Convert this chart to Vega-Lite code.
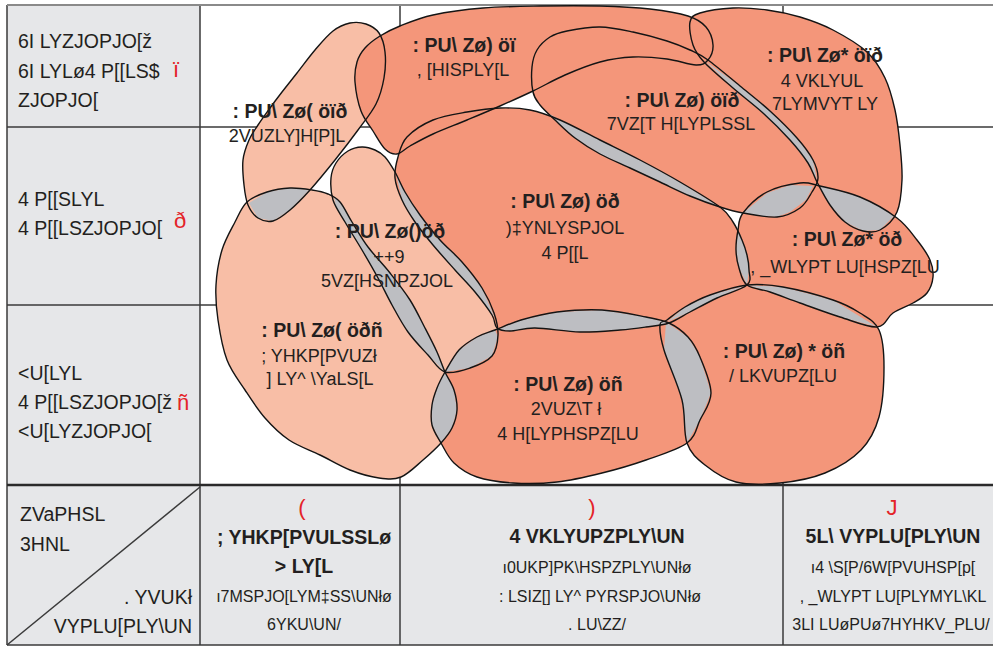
{
"$schema":"https://vega.github.io/schema/vega-lite/v6.json",
"width":993,"height":647,"padding":0,"autosize":{"type":"none"},
"background":"#ffffff",
"config":{"view":{"stroke":null}},
"datasets":{
"cells":[{"x":7,"x2":200,"y":5,"y2":645},{"x":7,"x2":993,"y":485,"y2":645}],
"grid":[
{"k":"n","x":200,"x2":200,"y":5,"y2":645},{"k":"n","x":400,"x2":400,"y":5,"y2":645},{"k":"n","x":783,"x2":783,"y":5,"y2":645},
{"k":"n","x":7,"x2":993,"y":127,"y2":127},{"k":"n","x":7,"x2":993,"y":305,"y2":305},{"k":"n","x":7,"x2":7,"y":5,"y2":645},
{"k":"n","x":7,"x2":993,"y":645,"y2":645},{"k":"n","x":7,"x2":200,"y":645,"y2":487},
{"k":"b","x":7,"x2":993,"y":485,"y2":485},{"k":"t","x":7,"x2":993,"y":5,"y2":5}],
"bub":[
{"s":"A12","i":0,"x":243,"y":160},{"s":"A12","i":1,"x":249,"y":140},{"s":"A12","i":2,"x":258,"y":125},{"s":"A12","i":3,"x":270,"y":108},{"s":"A12","i":4,"x":282,"y":92},{"s":"A12","i":5,"x":297,"y":73},{"s":"A12","i":6,"x":315,"y":50},{"s":"A12","i":7,"x":333,"y":31},{"s":"A12","i":8,"x":350,"y":23},{"s":"A12","i":9,"x":366,"y":24},{"s":"A12","i":10,"x":379,"y":33},{"s":"A12","i":11,"x":385,"y":52},{"s":"A12","i":12,"x":384,"y":78},{"s":"A12","i":13,"x":376,"y":104},{"s":"A12","i":14,"x":358,"y":130},{"s":"A12","i":15,"x":335,"y":160},{"s":"A12","i":16,"x":310,"y":190},{"s":"A12","i":17,"x":290,"y":210},{"s":"A12","i":18,"x":273,"y":221},{"s":"A12","i":19,"x":258,"y":218},{"s":"A12","i":20,"x":248,"y":205},{"s":"A12","i":21,"x":244,"y":185},
{"s":"A23","i":0,"x":235,"y":222},{"s":"A23","i":1,"x":247,"y":202},{"s":"A23","i":2,"x":267,"y":192},{"s":"A23","i":3,"x":290,"y":188},{"s":"A23","i":4,"x":312,"y":190},{"s":"A23","i":5,"x":328,"y":194},{"s":"A23","i":6,"x":340,"y":202},{"s":"A23","i":7,"x":352,"y":222},{"s":"A23","i":8,"x":368,"y":247},{"s":"A23","i":9,"x":390,"y":273},{"s":"A23","i":10,"x":410,"y":300},{"s":"A23","i":11,"x":425,"y":328},{"s":"A23","i":12,"x":437,"y":352},{"s":"A23","i":13,"x":445,"y":372},{"s":"A23","i":14,"x":454,"y":390},{"s":"A23","i":15,"x":457,"y":410},{"s":"A23","i":16,"x":452,"y":428},{"s":"A23","i":17,"x":441,"y":443},{"s":"A23","i":18,"x":423,"y":460},{"s":"A23","i":19,"x":401,"y":477},{"s":"A23","i":20,"x":379,"y":478},{"s":"A23","i":21,"x":350,"y":470},{"s":"A23","i":22,"x":320,"y":455},{"s":"A23","i":23,"x":289,"y":440},{"s":"A23","i":24,"x":265,"y":418},{"s":"A23","i":25,"x":245,"y":390},{"s":"A23","i":26,"x":227,"y":360},{"s":"A23","i":27,"x":218,"y":320},{"s":"A23","i":28,"x":216,"y":285},{"s":"A23","i":29,"x":222,"y":250},
{"s":"AB2","i":0,"x":331,"y":178},{"s":"AB2","i":1,"x":336,"y":163},{"s":"AB2","i":2,"x":348,"y":151},{"s":"AB2","i":3,"x":362,"y":147},{"s":"AB2","i":4,"x":375,"y":150},{"s":"AB2","i":5,"x":385,"y":157},{"s":"AB2","i":6,"x":395,"y":172},{"s":"AB2","i":7,"x":405,"y":192},{"s":"AB2","i":8,"x":420,"y":215},{"s":"AB2","i":9,"x":440,"y":240},{"s":"AB2","i":10,"x":462,"y":262},{"s":"AB2","i":11,"x":482,"y":288},{"s":"AB2","i":12,"x":494,"y":313},{"s":"AB2","i":13,"x":498,"y":335},{"s":"AB2","i":14,"x":492,"y":356},{"s":"AB2","i":15,"x":470,"y":368},{"s":"AB2","i":16,"x":445,"y":372},{"s":"AB2","i":17,"x":428,"y":355},{"s":"AB2","i":18,"x":408,"y":332},{"s":"AB2","i":19,"x":392,"y":305},{"s":"AB2","i":20,"x":378,"y":278},{"s":"AB2","i":21,"x":362,"y":250},{"s":"AB2","i":22,"x":345,"y":222},{"s":"AB2","i":23,"x":333,"y":200},
{"s":"B1","i":0,"x":355,"y":82},{"s":"B1","i":1,"x":357,"y":62},{"s":"B1","i":2,"x":365,"y":48},{"s":"B1","i":3,"x":380,"y":36},{"s":"B1","i":4,"x":400,"y":26},{"s":"B1","i":5,"x":433,"y":15},{"s":"B1","i":6,"x":483,"y":8},{"s":"B1","i":7,"x":540,"y":6},{"s":"B1","i":8,"x":600,"y":6},{"s":"B1","i":9,"x":650,"y":9},{"s":"B1","i":10,"x":688,"y":16},{"s":"B1","i":11,"x":706,"y":27},{"s":"B1","i":12,"x":713,"y":45},{"s":"B1","i":13,"x":708,"y":60},{"s":"B1","i":14,"x":696,"y":65},{"s":"B1","i":15,"x":667,"y":59},{"s":"B1","i":16,"x":633,"y":57},{"s":"B1","i":17,"x":600,"y":62},{"s":"B1","i":18,"x":565,"y":75},{"s":"B1","i":19,"x":533,"y":91},{"s":"B1","i":20,"x":500,"y":106},{"s":"B1","i":21,"x":467,"y":120},{"s":"B1","i":22,"x":433,"y":134},{"s":"B1","i":23,"x":410,"y":146},{"s":"B1","i":24,"x":397,"y":154},{"s":"B1","i":25,"x":385,"y":149},{"s":"B1","i":26,"x":373,"y":131},{"s":"B1","i":27,"x":361,"y":111},
{"s":"B12","i":0,"x":533,"y":92},{"s":"B12","i":1,"x":532,"y":67},{"s":"B12","i":2,"x":537,"y":50},{"s":"B12","i":3,"x":550,"y":37},{"s":"B12","i":4,"x":567,"y":31},{"s":"B12","i":5,"x":600,"y":27},{"s":"B12","i":6,"x":633,"y":32},{"s":"B12","i":7,"x":667,"y":41},{"s":"B12","i":8,"x":690,"y":50},{"s":"B12","i":9,"x":708,"y":60},{"s":"B12","i":10,"x":740,"y":86},{"s":"B12","i":11,"x":770,"y":111},{"s":"B12","i":12,"x":797,"y":138},{"s":"B12","i":13,"x":813,"y":160},{"s":"B12","i":14,"x":818,"y":178},{"s":"B12","i":15,"x":812,"y":192},{"s":"B12","i":16,"x":800,"y":208},{"s":"B12","i":17,"x":777,"y":217},{"s":"B12","i":18,"x":743,"y":213},{"s":"B12","i":19,"x":720,"y":207},{"s":"B12","i":20,"x":690,"y":196},{"s":"B12","i":21,"x":660,"y":182},{"s":"B12","i":22,"x":630,"y":168},{"s":"B12","i":23,"x":600,"y":154},{"s":"B12","i":24,"x":575,"y":138},{"s":"B12","i":25,"x":555,"y":120},{"s":"B12","i":26,"x":540,"y":105},
{"s":"C12","i":0,"x":690,"y":22},{"s":"C12","i":1,"x":700,"y":13},{"s":"C12","i":2,"x":733,"y":8},{"s":"C12","i":3,"x":767,"y":10},{"s":"C12","i":4,"x":800,"y":17},{"s":"C12","i":5,"x":833,"y":30},{"s":"C12","i":6,"x":867,"y":52},{"s":"C12","i":7,"x":885,"y":78},{"s":"C12","i":8,"x":895,"y":110},{"s":"C12","i":9,"x":900,"y":145},{"s":"C12","i":10,"x":902,"y":180},{"s":"C12","i":11,"x":897,"y":212},{"s":"C12","i":12,"x":880,"y":230},{"s":"C12","i":13,"x":863,"y":231},{"s":"C12","i":14,"x":845,"y":222},{"s":"C12","i":15,"x":830,"y":205},{"s":"C12","i":16,"x":817,"y":182},{"s":"C12","i":17,"x":808,"y":163},{"s":"C12","i":18,"x":790,"y":140},{"s":"C12","i":19,"x":763,"y":113},{"s":"C12","i":20,"x":733,"y":88},{"s":"C12","i":21,"x":704,"y":62},{"s":"C12","i":22,"x":693,"y":45},
{"s":"C2","i":0,"x":738,"y":230},{"s":"C2","i":1,"x":743,"y":213},{"s":"C2","i":2,"x":767,"y":192},{"s":"C2","i":3,"x":800,"y":183},{"s":"C2","i":4,"x":820,"y":186},{"s":"C2","i":5,"x":860,"y":197},{"s":"C2","i":6,"x":897,"y":218},{"s":"C2","i":7,"x":917,"y":240},{"s":"C2","i":8,"x":930,"y":260},{"s":"C2","i":9,"x":933,"y":277},{"s":"C2","i":10,"x":927,"y":293},{"s":"C2","i":11,"x":913,"y":303},{"s":"C2","i":12,"x":893,"y":313},{"s":"C2","i":13,"x":877,"y":327},{"s":"C2","i":14,"x":840,"y":317},{"s":"C2","i":15,"x":800,"y":303},{"s":"C2","i":16,"x":770,"y":292},{"s":"C2","i":17,"x":747,"y":285},{"s":"C2","i":18,"x":739,"y":268},{"s":"C2","i":19,"x":736,"y":250},
{"s":"B2","i":0,"x":398,"y":157},{"s":"B2","i":1,"x":395,"y":178},{"s":"B2","i":2,"x":402,"y":200},{"s":"B2","i":3,"x":415,"y":222},{"s":"B2","i":4,"x":433,"y":245},{"s":"B2","i":5,"x":455,"y":270},{"s":"B2","i":6,"x":475,"y":292},{"s":"B2","i":7,"x":492,"y":315},{"s":"B2","i":8,"x":497,"y":328},{"s":"B2","i":9,"x":510,"y":331},{"s":"B2","i":10,"x":535,"y":328},{"s":"B2","i":11,"x":580,"y":332},{"s":"B2","i":12,"x":620,"y":330},{"s":"B2","i":13,"x":646,"y":327},{"s":"B2","i":14,"x":669,"y":323},{"s":"B2","i":15,"x":690,"y":312},{"s":"B2","i":16,"x":717,"y":298},{"s":"B2","i":17,"x":747,"y":285},{"s":"B2","i":18,"x":749,"y":270},{"s":"B2","i":19,"x":747,"y":255},{"s":"B2","i":20,"x":742,"y":240},{"s":"B2","i":21,"x":733,"y":222},{"s":"B2","i":22,"x":720,"y":207},{"s":"B2","i":23,"x":680,"y":182},{"s":"B2","i":24,"x":640,"y":160},{"s":"B2","i":25,"x":600,"y":140},{"s":"B2","i":26,"x":560,"y":120},{"s":"B2","i":27,"x":530,"y":110},{"s":"B2","i":28,"x":500,"y":108},{"s":"B2","i":29,"x":467,"y":112},{"s":"B2","i":30,"x":433,"y":120},{"s":"B2","i":31,"x":407,"y":137},
{"s":"B3","i":0,"x":445,"y":372},{"s":"B3","i":1,"x":459,"y":350},{"s":"B3","i":2,"x":477,"y":337},{"s":"B3","i":3,"x":495,"y":330},{"s":"B3","i":4,"x":521,"y":320},{"s":"B3","i":5,"x":557,"y":312},{"s":"B3","i":6,"x":602,"y":310},{"s":"B3","i":7,"x":646,"y":317},{"s":"B3","i":8,"x":669,"y":323},{"s":"B3","i":9,"x":688,"y":337},{"s":"B3","i":10,"x":700,"y":357},{"s":"B3","i":11,"x":711,"y":393},{"s":"B3","i":12,"x":700,"y":420},{"s":"B3","i":13,"x":687,"y":443},{"s":"B3","i":14,"x":646,"y":460},{"s":"B3","i":15,"x":602,"y":473},{"s":"B3","i":16,"x":557,"y":482},{"s":"B3","i":17,"x":513,"y":483},{"s":"B3","i":18,"x":477,"y":477},{"s":"B3","i":19,"x":454,"y":463},{"s":"B3","i":20,"x":441,"y":443},{"s":"B3","i":21,"x":432,"y":425},{"s":"B3","i":22,"x":432,"y":405},{"s":"B3","i":23,"x":437,"y":388},
{"s":"BC3","i":0,"x":660,"y":325},{"s":"BC3","i":1,"x":667,"y":320},{"s":"BC3","i":2,"x":685,"y":307},{"s":"BC3","i":3,"x":710,"y":295},{"s":"BC3","i":4,"x":747,"y":285},{"s":"BC3","i":5,"x":783,"y":287},{"s":"BC3","i":6,"x":833,"y":300},{"s":"BC3","i":7,"x":860,"y":313},{"s":"BC3","i":8,"x":879,"y":330},{"s":"BC3","i":9,"x":884,"y":367},{"s":"BC3","i":10,"x":879,"y":417},{"s":"BC3","i":11,"x":861,"y":450},{"s":"BC3","i":12,"x":825,"y":473},{"s":"BC3","i":13,"x":780,"y":483},{"s":"BC3","i":14,"x":736,"y":482},{"s":"BC3","i":15,"x":705,"y":465},{"s":"BC3","i":16,"x":687,"y":443},{"s":"BC3","i":17,"x":682,"y":400},{"s":"BC3","i":18,"x":664,"y":350}
],
"lens":[
{"s":"G1","i":0,"x":249,"y":203},{"s":"G1","i":1,"x":267,"y":192},{"s":"G1","i":2,"x":290,"y":188},{"s":"G1","i":3,"x":309,"y":190},{"s":"G1","i":4,"x":290,"y":210},{"s":"G1","i":5,"x":273,"y":221},{"s":"G1","i":6,"x":258,"y":218},
{"s":"G2","i":0,"x":334,"y":197},{"s":"G2","i":1,"x":340,"y":202},{"s":"G2","i":2,"x":352,"y":222},{"s":"G2","i":3,"x":368,"y":247},{"s":"G2","i":4,"x":390,"y":273},{"s":"G2","i":5,"x":410,"y":300},{"s":"G2","i":6,"x":425,"y":328},{"s":"G2","i":7,"x":437,"y":352},{"s":"G2","i":8,"x":445,"y":372},{"s":"G2","i":9,"x":428,"y":355},{"s":"G2","i":10,"x":408,"y":332},{"s":"G2","i":11,"x":392,"y":305},{"s":"G2","i":12,"x":378,"y":278},{"s":"G2","i":13,"x":362,"y":250},{"s":"G2","i":14,"x":345,"y":222},{"s":"G2","i":15,"x":336,"y":207},
{"s":"G3","i":0,"x":396,"y":174},{"s":"G3","i":1,"x":405,"y":192},{"s":"G3","i":2,"x":420,"y":215},{"s":"G3","i":3,"x":440,"y":240},{"s":"G3","i":4,"x":462,"y":262},{"s":"G3","i":5,"x":482,"y":288},{"s":"G3","i":6,"x":495,"y":318},{"s":"G3","i":7,"x":475,"y":292},{"s":"G3","i":8,"x":455,"y":270},{"s":"G3","i":9,"x":433,"y":245},{"s":"G3","i":10,"x":415,"y":222},{"s":"G3","i":11,"x":402,"y":200},
{"s":"G4","i":0,"x":445,"y":372},{"s":"G4","i":1,"x":459,"y":350},{"s":"G4","i":2,"x":477,"y":337},{"s":"G4","i":3,"x":495,"y":330},{"s":"G4","i":4,"x":498,"y":337},{"s":"G4","i":5,"x":492,"y":356},{"s":"G4","i":6,"x":470,"y":368},
{"s":"G5","i":0,"x":445,"y":372},{"s":"G5","i":1,"x":454,"y":390},{"s":"G5","i":2,"x":457,"y":410},{"s":"G5","i":3,"x":452,"y":428},{"s":"G5","i":4,"x":441,"y":443},{"s":"G5","i":5,"x":432,"y":425},{"s":"G5","i":6,"x":432,"y":405},{"s":"G5","i":7,"x":437,"y":388},
{"s":"G6","i":0,"x":496,"y":330},{"s":"G6","i":1,"x":521,"y":320},{"s":"G6","i":2,"x":557,"y":312},{"s":"G6","i":3,"x":602,"y":310},{"s":"G6","i":4,"x":646,"y":317},{"s":"G6","i":5,"x":669,"y":323},{"s":"G6","i":6,"x":646,"y":327},{"s":"G6","i":7,"x":620,"y":330},{"s":"G6","i":8,"x":580,"y":332},{"s":"G6","i":9,"x":535,"y":328},{"s":"G6","i":10,"x":510,"y":331},
{"s":"G7","i":0,"x":666,"y":322},{"s":"G7","i":1,"x":688,"y":337},{"s":"G7","i":2,"x":700,"y":357},{"s":"G7","i":3,"x":711,"y":393},{"s":"G7","i":4,"x":700,"y":420},{"s":"G7","i":5,"x":687,"y":443},{"s":"G7","i":6,"x":682,"y":400},{"s":"G7","i":7,"x":664,"y":350},
{"s":"G8","i":0,"x":747,"y":285},{"s":"G8","i":1,"x":783,"y":287},{"s":"G8","i":2,"x":833,"y":300},{"s":"G8","i":3,"x":877,"y":327},{"s":"G8","i":4,"x":840,"y":317},{"s":"G8","i":5,"x":800,"y":303},{"s":"G8","i":6,"x":770,"y":292},
{"s":"G9","i":0,"x":705,"y":61},{"s":"G9","i":1,"x":740,"y":86},{"s":"G9","i":2,"x":770,"y":111},{"s":"G9","i":3,"x":797,"y":138},{"s":"G9","i":4,"x":813,"y":160},{"s":"G9","i":5,"x":817,"y":180},{"s":"G9","i":6,"x":808,"y":163},{"s":"G9","i":7,"x":790,"y":140},{"s":"G9","i":8,"x":763,"y":113},{"s":"G9","i":9,"x":733,"y":88},
{"s":"G10","i":0,"x":548,"y":113},{"s":"G10","i":1,"x":560,"y":120},{"s":"G10","i":2,"x":600,"y":140},{"s":"G10","i":3,"x":640,"y":160},{"s":"G10","i":4,"x":680,"y":182},{"s":"G10","i":5,"x":720,"y":207},{"s":"G10","i":6,"x":690,"y":196},{"s":"G10","i":7,"x":660,"y":182},{"s":"G10","i":8,"x":630,"y":168},{"s":"G10","i":9,"x":600,"y":154},{"s":"G10","i":10,"x":575,"y":138},{"s":"G10","i":11,"x":555,"y":120},
{"s":"G11","i":0,"x":743,"y":213},{"s":"G11","i":1,"x":767,"y":193},{"s":"G11","i":2,"x":790,"y":185},{"s":"G11","i":3,"x":813,"y":186},{"s":"G11","i":4,"x":806,"y":200},{"s":"G11","i":5,"x":790,"y":212},{"s":"G11","i":6,"x":777,"y":217},{"s":"G11","i":7,"x":760,"y":216},
{"s":"G12","i":0,"x":818,"y":185},{"s":"G12","i":1,"x":840,"y":191},{"s":"G12","i":2,"x":860,"y":197},{"s":"G12","i":3,"x":880,"y":207},{"s":"G12","i":4,"x":894,"y":216},{"s":"G12","i":5,"x":880,"y":230},{"s":"G12","i":6,"x":863,"y":231},{"s":"G12","i":7,"x":845,"y":222},{"s":"G12","i":8,"x":830,"y":205},
{"s":"G13","i":0,"x":738,"y":230},{"s":"G13","i":1,"x":742,"y":240},{"s":"G13","i":2,"x":747,"y":255},{"s":"G13","i":3,"x":749,"y":270},{"s":"G13","i":4,"x":747,"y":285},{"s":"G13","i":5,"x":739,"y":268},{"s":"G13","i":6,"x":736,"y":250},
{"s":"G14","i":0,"x":667,"y":322},{"s":"G14","i":1,"x":685,"y":307},{"s":"G14","i":2,"x":710,"y":295},{"s":"G14","i":3,"x":747,"y":285},{"s":"G14","i":4,"x":717,"y":298},{"s":"G14","i":5,"x":690,"y":312}
],
"lab":[
{"k":"lc","x":18,"y":42,"t":"6I LYZJOPJO[ž"},{"k":"lc","x":18,"y":72,"t":"6I LYLø4 P[[LS$"},{"k":"lc","x":18,"y":101,"t":"ZJOPJO["},
{"k":"lc","x":18,"y":200,"t":"4 P[[SLYL"},{"k":"lc","x":18,"y":229,"t":"4 P[[LSZJOPJO["},
{"k":"lc","x":18,"y":374,"t":"<U[LYL"},{"k":"lc","x":18,"y":403,"t":"4 P[[LSZJOPJO[ž"},{"k":"lc","x":18,"y":432,"t":"<U[LYZJOPJO["},
{"k":"lc","x":20,"y":515,"t":"ZVaPHSL"},{"k":"lc","x":20,"y":545,"t":"3HNL"},
{"k":"rc","x":192,"y":598,"t":". YVUKł"},{"k":"rc","x":192,"y":627,"t":"VYPLU[PLY\\UN"},
{"k":"red","x":176,"y":70,"t":"ï"},{"k":"red","x":180,"y":221,"t":"ð"},{"k":"red","x":183,"y":403,"t":"ñ"},
{"k":"red","x":302,"y":508,"t":"("},{"k":"red","x":592,"y":508,"t":")"},{"k":"red","x":892,"y":508,"t":"J"},
{"k":"hb","x":304,"y":538,"t":"; YHKP[PVULSSLø"},{"k":"hb","x":304,"y":567,"t":"> LY[L"},
{"k":"hr","x":304,"y":597,"t":"ı7MSPJO[LYM‡SS\\UNłø"},{"k":"hr","x":304,"y":625,"t":"6YKU\\UN/"},
{"k":"hb","x":597,"y":537,"t":"4 VKLYUPZPLY\\UN"},{"k":"hr","x":597,"y":568,"t":"ı0UKP]PK\\HSPZPLY\\UNłø"},{"k":"hr","x":600,"y":597,"t":": LSIZ[] LY^ PYRSPJO\\UNłø"},{"k":"hr","x":597,"y":625,"t":". LU\\ZZ/"},
{"k":"hb","x":893,"y":537,"t":"5L\\ VYPLU[PLY\\UN"},{"k":"hr","x":893,"y":568,"t":"ı4 \\S[P/6W[PVUHSP[p["},{"k":"hr","x":893,"y":597,"t":", _WLYPT LU[PLYMYL\\KL"},{"k":"hr","x":891,"y":625,"t":"3LI LUøPUø7HYHKV_PLU/"},
{"k":"bt","x":290,"y":112,"t":": PU\\ Zø( öïð"},{"k":"bs","x":287,"y":137,"t":"2VUZLY]H[P]L"},
{"k":"bt","x":464,"y":46,"t":": PU\\ Zø) öï"},{"k":"bs","x":463,"y":71,"t":", [HISPLY[L"},
{"k":"bt","x":682,"y":101,"t":": PU\\ Zø) öïð"},{"k":"bs","x":681,"y":125,"t":"7VZ[T H[LYPLSSL"},
{"k":"bt","x":825,"y":56,"t":": PU\\ Zø* öïð"},{"k":"bs","x":822,"y":82,"t":"4 VKLYUL"},{"k":"bs","x":825,"y":105,"t":"7LYMVYT LY"},
{"k":"bt","x":390,"y":232,"t":": PU\\ Zø()öð"},{"k":"bs","x":389,"y":258,"t":"++9"},{"k":"bs","x":387,"y":282,"t":"5VZ[HSNPZJOL"},
{"k":"bt","x":565,"y":202,"t":": PU\\ Zø) öð"},{"k":"bs","x":565,"y":229,"t":")‡YNLYSPJOL"},{"k":"bs","x":565,"y":254,"t":"4 P[[L"},
{"k":"bt","x":847,"y":240,"t":": PU\\ Zø* öð"},{"k":"bs","x":845,"y":268,"t":", _WLYPT LU[HSPZ[LU"},
{"k":"bt","x":322,"y":331,"t":": PU\\ Zø( öðñ"},{"k":"bs","x":319,"y":357,"t":"; YHKP[PVUZł"},{"k":"bs","x":320,"y":380,"t":"] LY^ \\YaLS[L"},
{"k":"bt","x":568,"y":385,"t":": PU\\ Zø) öñ"},{"k":"bs","x":566,"y":410,"t":"2VUZ\\T ł"},{"k":"bs","x":568,"y":435,"t":"4 H[LYPHSPZ[LU"},
{"k":"bt","x":784,"y":352,"t":": PU\\ Zø) * öñ"},{"k":"bs","x":783,"y":377,"t":"/ LKVUPZ[LU"}
]
},
"encoding":{
"x":{"field":"x","type":"quantitative","scale":{"domain":[0,993],"range":[0,993],"nice":false,"zero":false},"axis":null},
"y":{"field":"y","type":"quantitative","scale":{"domain":[0,647],"range":[0,647],"nice":false,"zero":false},"axis":null}
},
"layer":[
{"data":{"name":"cells"},"mark":{"type":"rect","fill":"#e6e7e9","stroke":null},"encoding":{"x2":{"field":"x2"},"y2":{"field":"y2"}}},
{"data":{"name":"grid"},"transform":[{"filter":"datum.k=='n'"}],"mark":{"type":"rule","stroke":"#3a3a3a","strokeWidth":1.5},"encoding":{"x2":{"field":"x2"},"y2":{"field":"y2"}}},
{"data":{"name":"grid"},"transform":[{"filter":"datum.k=='b'"}],"mark":{"type":"rule","stroke":"#2a2a2a","strokeWidth":2.5},"encoding":{"x2":{"field":"x2"},"y2":{"field":"y2"}}},
{"data":{"name":"grid"},"transform":[{"filter":"datum.k=='t'"}],"mark":{"type":"rule","stroke":"#8a8a8a","strokeWidth":2},"encoding":{"x2":{"field":"x2"},"y2":{"field":"y2"}}},
{"data":{"name":"bub"},"transform":[{"filter":{"field":"s","oneOf":["A12","A23","AB2"]}}],"mark":{"type":"line","interpolate":"cardinal-closed","fill":"#f8bea6","stroke":"#f8bea6","strokeWidth":0},"encoding":{"detail":{"field":"s"},"order":{"field":"i","type":"quantitative"}}},
{"data":{"name":"bub"},"transform":[{"filter":{"field":"s","oneOf":["B12","C12","C2","B2","B3","BC3"]}}],"mark":{"type":"line","interpolate":"cardinal-closed","fill":"#f4967a","stroke":"#f4967a","strokeWidth":0},"encoding":{"detail":{"field":"s"},"order":{"field":"i","type":"quantitative"}}},
{"data":{"name":"lens"},"mark":{"type":"line","interpolate":"linear-closed","fill":"#bdbec2","stroke":"#bdbec2","strokeWidth":0},"encoding":{"detail":{"field":"s"},"order":{"field":"i","type":"quantitative"}}},
{"data":{"name":"bub"},"transform":[{"filter":"datum.s=='B1'"}],"mark":{"type":"line","interpolate":"cardinal-closed","fill":"#f4967a","stroke":"#f4967a","strokeWidth":0},"encoding":{"detail":{"field":"s"},"order":{"field":"i","type":"quantitative"}}},
{"data":{"name":"bub"},"mark":{"type":"line","interpolate":"cardinal-closed","stroke":"#141414","strokeWidth":1.4},"encoding":{"detail":{"field":"s"},"order":{"field":"i","type":"quantitative"}}},
{"data":{"name":"lab"},"transform":[{"filter":"datum.k=='lc'"}],"mark":{"type":"text","font":"Liberation Sans","fontSize":19.5,"align":"left","baseline":"middle","fill":"#231f20"},"encoding":{"text":{"field":"t"}}},
{"data":{"name":"lab"},"transform":[{"filter":"datum.k=='rc'"}],"mark":{"type":"text","font":"Liberation Sans","fontSize":19.5,"align":"right","baseline":"middle","fill":"#231f20"},"encoding":{"text":{"field":"t"}}},
{"data":{"name":"lab"},"transform":[{"filter":"datum.k=='red'"}],"mark":{"type":"text","font":"Liberation Sans","fontSize":22,"align":"center","baseline":"middle","fill":"#e42328"},"encoding":{"text":{"field":"t"}}},
{"data":{"name":"lab"},"transform":[{"filter":"datum.k=='hb'"}],"mark":{"type":"text","font":"Liberation Sans","fontSize":19.5,"fontWeight":"bold","align":"center","baseline":"middle","fill":"#231f20"},"encoding":{"text":{"field":"t"}}},
{"data":{"name":"lab"},"transform":[{"filter":"datum.k=='hr'"}],"mark":{"type":"text","font":"Liberation Sans","fontSize":16,"align":"center","baseline":"middle","fill":"#231f20"},"encoding":{"text":{"field":"t"}}},
{"data":{"name":"lab"},"transform":[{"filter":"datum.k=='bt'"}],"mark":{"type":"text","font":"Liberation Sans","fontSize":19.5,"fontWeight":"bold","align":"center","baseline":"middle","fill":"#231f20"},"encoding":{"text":{"field":"t"}}},
{"data":{"name":"lab"},"transform":[{"filter":"datum.k=='bs'"}],"mark":{"type":"text","font":"Liberation Sans","fontSize":18,"align":"center","baseline":"middle","fill":"#231f20"},"encoding":{"text":{"field":"t"}}}
]
}
